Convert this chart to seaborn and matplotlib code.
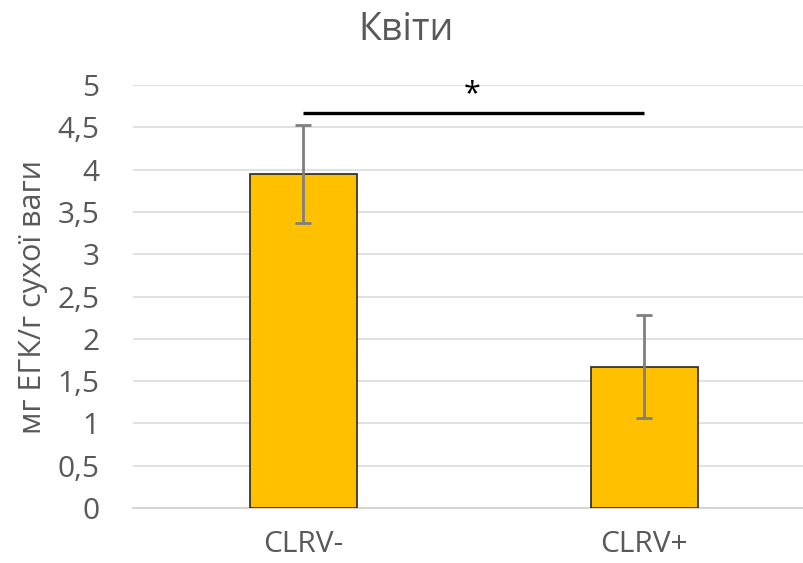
import matplotlib
matplotlib.use("Agg")
import matplotlib.pyplot as plt
import seaborn as sns
import pandas as pd

categories = ["CLRV-", "CLRV+"]
values = [3.95, 1.67]
errors = [0.58, 0.61]
y_ticks = [0, 0.5, 1, 1.5, 2, 2.5, 3, 3.5, 4, 4.5, 5]
y_ticklabels = ["0", "0,5", "1", "1,5", "2", "2,5", "3", "3,5", "4", "4,5", "5"]
title = "Квіти"
ylabel = "мг ЕГК/г сухої ваги"
sig_pair = (0, 1)
sig_y = 4.67
sig_text = "*"

sns.set_theme(style="white")
plt.rcParams['font.family'] = ['Open Sans', 'DejaVu Sans']

df = pd.DataFrame({"cat": categories, "val": values})

fig = plt.figure(figsize=(8.04, 5.63), dpi=100)
ax = fig.add_axes([133 / 804, (563 - 508) / 563, 1 - 133 / 804, (508 - 85) / 563])

sns.barplot(data=df, x="cat", y="val", color="#FFC000", width=0.314,
            edgecolor="#262626", linewidth=1.2, errorbar=None, ax=ax, zorder=3,
            saturation=1)
ax.errorbar(range(len(values)), values, yerr=errors, fmt="none",
            ecolor="#7f7f7f", elinewidth=2, capsize=6, capthick=2, zorder=4)

ax.set_xlim(-0.5, 1.469)
ax.set_ylim(0, 5)
ax.set_yticks(y_ticks)
ax.set_yticklabels(y_ticklabels)
ax.yaxis.grid(True, color="#d9d9d9", linewidth=1.1, zorder=0)
ax.set_axisbelow(True)
for s in ["top", "right", "left"]:
    ax.spines[s].set_visible(False)
ax.spines["bottom"].set_color("#d0d0d0")
ax.spines["bottom"].set_linewidth(1.2)
ax.tick_params(axis="both", length=0, labelsize=21.5, labelcolor="#595959")
ax.tick_params(axis="y", pad=24)
ax.tick_params(axis="x", pad=16)
ax.set_xlabel("")
ax.set_ylabel(ylabel, fontsize=22, color="#595959", labelpad=7)

ax.plot(list(sig_pair), [sig_y, sig_y], color="black", linewidth=2.4,
        solid_capstyle="butt", zorder=5, clip_on=False)
ax.text(sum(sig_pair) / 2 - 0.005, sig_y + 0.05, sig_text, ha="center", va="bottom",
        fontsize=22, color="black")

fig.text(406 / 804, 1 - 30 / 563, title, ha="center", va="center",
         fontsize=27, color="#595959")

fig.savefig("out.png", dpi=100)
